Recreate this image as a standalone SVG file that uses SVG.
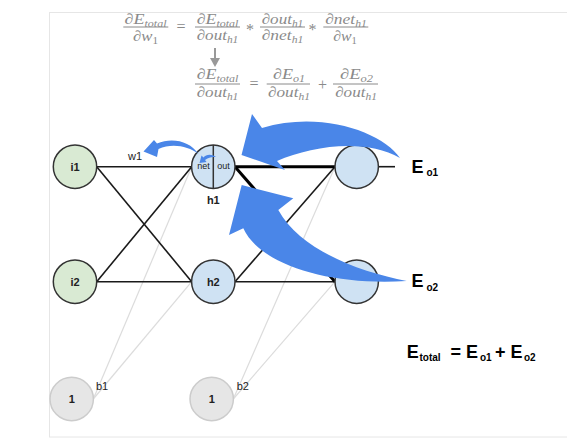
<svg xmlns="http://www.w3.org/2000/svg" width="567" height="445" viewBox="0 0 567 445">
<style>
.m{font-family:"Liberation Serif",serif;font-style:italic;font-size:15px;fill:#8a8a8a;text-anchor:middle}
.op{font-family:"Liberation Serif",serif;font-size:16px;fill:#8a8a8a;text-anchor:middle}
.bar{stroke:#8a8a8a;stroke-width:1}
.wire{stroke:#1a1a1a;stroke-width:1.6;fill:none}
.thick{stroke:#000;stroke-width:3;fill:none}
.bias{stroke:#dcdcdc;stroke-width:1.2;fill:none}
.in{fill:#d9ead3;stroke:#333;stroke-width:1.5}
.hid{fill:#cfe2f3;stroke:#333;stroke-width:1.5}
.one{fill:#e6e6e6;stroke:#cccccc;stroke-width:1.5}
.lb{font-family:"Liberation Sans",Arial,sans-serif;font-weight:bold;font-size:11px;fill:#222;text-anchor:middle}
.t{font-family:"Liberation Sans",Arial,sans-serif;font-size:11px;fill:#222}
.s{font-family:"Liberation Sans",Arial,sans-serif;font-size:9px;fill:#222;text-anchor:middle}
.E{font-family:"Liberation Sans",Arial,sans-serif;font-weight:bold;font-size:18px;fill:#000}
.Es{font-family:"Liberation Sans",Arial,sans-serif;font-weight:bold;font-size:10px;fill:#000}
.blue{fill:#4a86e8}
</style>
<rect x="49.5" y="12.5" width="600" height="424.5" fill="#fff" stroke="#e6e6e6" stroke-width="1"/>

<g id="formula">
  <text class="m" x="145.5" y="23.5" textLength="42" lengthAdjust="spacingAndGlyphs">∂E<tspan font-size="10" dy="3">total</tspan></text>
  <line class="bar" x1="123.3" y1="27" x2="168.3" y2="27"/>
  <text class="m" x="145.5" y="41" textLength="25" lengthAdjust="spacingAndGlyphs">∂w<tspan font-size="10" dy="3" font-style="normal">1</tspan></text>
  <text class="op" x="181" y="32">=</text>
  <text class="m" x="217.5" y="23.5" textLength="41.6" lengthAdjust="spacingAndGlyphs">∂E<tspan font-size="10" dy="3">total</tspan></text>
  <line class="bar" x1="195" y1="27" x2="240" y2="27"/>
  <text class="m" x="217.5" y="40" textLength="41.6" lengthAdjust="spacingAndGlyphs">∂out<tspan font-size="10" dy="3">h1</tspan></text>
  <text class="op" x="250" y="35">*</text>
  <text class="m" x="282.5" y="23.5" textLength="41.6" lengthAdjust="spacingAndGlyphs">∂out<tspan font-size="10" dy="3">h1</tspan></text>
  <line class="bar" x1="260" y1="27" x2="305" y2="27"/>
  <text class="m" x="282.5" y="40" textLength="41.6" lengthAdjust="spacingAndGlyphs">∂net<tspan font-size="10" dy="3">h1</tspan></text>
  <text class="op" x="312.5" y="35">*</text>
  <text class="m" x="346" y="23.5" textLength="41.6" lengthAdjust="spacingAndGlyphs">∂net<tspan font-size="10" dy="3">h1</tspan></text>
  <line class="bar" x1="323.3" y1="27" x2="368.3" y2="27"/>
  <text class="m" x="345" y="41" textLength="23.7" lengthAdjust="spacingAndGlyphs">∂w<tspan font-size="10" dy="3" font-style="normal">1</tspan></text>

  <line x1="215" y1="48" x2="215" y2="59" stroke="#999" stroke-width="2"/>
  <polygon points="210,58 220,58 215,67" fill="#999"/>

  <text class="m" x="217.5" y="79" textLength="41.6" lengthAdjust="spacingAndGlyphs">∂E<tspan font-size="10" dy="3">total</tspan></text>
  <line class="bar" x1="195" y1="84" x2="240" y2="84"/>
  <text class="m" x="217.5" y="97" textLength="41.6" lengthAdjust="spacingAndGlyphs">∂out<tspan font-size="10" dy="3">h1</tspan></text>
  <text class="op" x="254" y="89">=</text>
  <text class="m" x="289" y="79" textLength="32" lengthAdjust="spacingAndGlyphs">∂E<tspan font-size="10" dy="3">o1</tspan></text>
  <line class="bar" x1="266.7" y1="84" x2="310" y2="84"/>
  <text class="m" x="289" y="97" textLength="42" lengthAdjust="spacingAndGlyphs">∂out<tspan font-size="10" dy="3">h1</tspan></text>
  <text class="op" x="322.5" y="89.5">+</text>
  <text class="m" x="356.5" y="79" textLength="33" lengthAdjust="spacingAndGlyphs">∂E<tspan font-size="10" dy="3">o2</tspan></text>
  <line class="bar" x1="333" y1="84" x2="378" y2="84"/>
  <text class="m" x="356" y="97" textLength="41.7" lengthAdjust="spacingAndGlyphs">∂out<tspan font-size="10" dy="3">h1</tspan></text>
</g>

<g id="connectors">
  <line class="bias" x1="93.3" y1="399" x2="191.7" y2="166.7"/>
  <line class="bias" x1="93.3" y1="399" x2="191.7" y2="281.7"/>
  <line class="bias" x1="233.3" y1="399" x2="335" y2="166.7"/>
  <line class="bias" x1="233.3" y1="399" x2="335" y2="281.7"/>
  <line class="wire" x1="96.7" y1="166.7" x2="191.7" y2="166.7"/>
  <line class="wire" x1="96.7" y1="166.7" x2="191.7" y2="281.7"/>
  <line class="wire" x1="96.7" y1="281.7" x2="191.7" y2="166.7"/>
  <line class="wire" x1="96.7" y1="281.7" x2="191.7" y2="281.7"/>
  <line class="wire" x1="235" y1="281.7" x2="335" y2="166.7"/>
  <line class="wire" x1="235" y1="281.7" x2="335" y2="281.7"/>
  <line class="thick" x1="235" y1="166.7" x2="335" y2="166.7"/>
  <line class="thick" x1="235" y1="166.7" x2="335" y2="281.7"/>
  <line class="wire" x1="378" y1="166.7" x2="395" y2="166.7"/>
</g>

<g id="i1"><circle class="in" cx="75" cy="166.7" r="21.7"/><text class="lb" x="75" y="170.7">i1</text></g>
<g id="i2"><circle class="in" cx="75" cy="281.7" r="21.7"/><text class="lb" x="75" y="285.7">i2</text></g>
<g id="h1">
  <circle class="hid" cx="213.3" cy="166.7" r="21.7"/>
  <line x1="213.3" y1="145" x2="213.3" y2="188.4" stroke="#333" stroke-width="1.5"/>
  <text class="s" x="203.5" y="168.5">net</text>
  <text class="s" x="223.5" y="168.5">out</text>
  <text class="lb" x="213.3" y="203.5">h1</text>
</g>
<g id="h2"><circle class="hid" cx="213.3" cy="281.7" r="21.7"/><text class="lb" x="213.3" y="285.7">h2</text></g>
<g id="o1"><circle class="hid" cx="356.7" cy="166.7" r="21.7"/></g>
<g id="o2"><circle class="hid" cx="356.7" cy="281.7" r="21.7"/></g>
<g id="b1"><circle class="one" cx="71.7" cy="399" r="21.7"/><text class="lb" x="71.7" y="403">1</text></g>
<g id="b2"><circle class="one" cx="211.7" cy="399" r="21.7"/><text class="lb" x="211.7" y="403">1</text></g>

<g id="labels">
  <text class="t" x="128" y="160">w1</text>
  <text class="t" x="96" y="390">b1</text>
  <text class="t" x="236.7" y="390">b2</text>
  <text class="E" x="411.5" y="173.3">E</text><text class="Es" x="426.5" y="176">o1</text>
  <text class="E" x="411.5" y="286.7">E</text><text class="Es" x="426.5" y="290.5">o2</text>
  <text class="E" x="406.7" y="358.3">E</text><text class="Es" x="419.5" y="361" font-size="11">total</text>
  <text class="E" x="450.5" y="358.3">= E</text><text class="Es" x="480" y="361">o1</text>
  <text class="E" x="495" y="358.3">+ E</text><text class="Es" x="524" y="361">o2</text>
</g>

<g id="arrows">
  <path class="blue" d="M400,158 C383,132 320,110 262,128 L252,114 L241.5,155 L285,170 L277,161 C312,146 365,138 400,158 Z"/>
  <path class="blue" d="M406.7,281 C360,272 300,250 278.3,210 L293.3,198.3 L241.7,185 L229,235 L243.3,228.3 C260,265 330,286 406.7,281 Z"/>
  <path class="blue" d="M198.5,154 C190,141 172,137 157,143.5 L154,140 L143.5,151.5 L157,157 L158.5,149 C172,143 188,146 198.5,154 Z"/>
  <path class="blue" d="M216,157 C211,153.5 206,154.5 203.5,157.5 L201.5,155.5 L199.5,163 L206.5,162 L205,160 C208,157.5 212,157 216,157 Z"/>
</g>
</svg>
